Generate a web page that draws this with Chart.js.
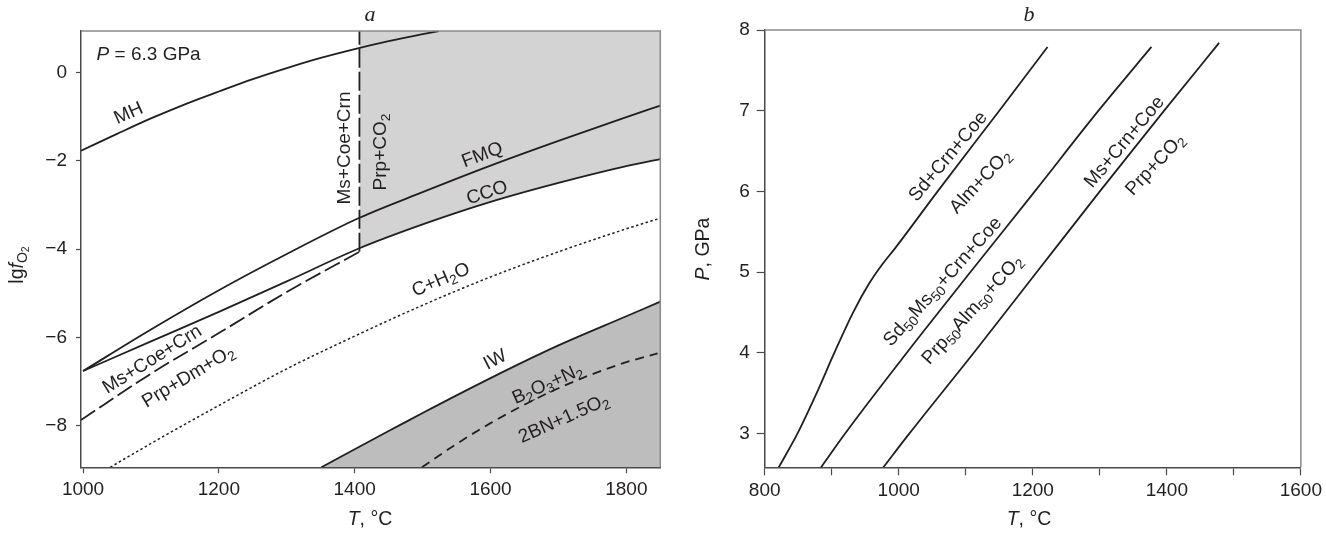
<!DOCTYPE html>
<html><head><meta charset="utf-8">
<script src="https://cdn.jsdelivr.net/npm/chart.js@4/dist/chart.umd.min.js"></script>
<style>
html,body{margin:0;padding:0;background:#fff;}
#wrap{position:relative;width:1326px;height:534px;overflow:hidden;}
#c1{position:absolute;left:0;top:0;width:690px;height:534px;}
#c2{position:absolute;left:690px;top:0;width:636px;height:534px;}
</style></head><body>
<div id="wrap"><canvas id="c1" width="690" height="534"></canvas><canvas id="c2" width="636" height="534"></canvas></div>
<script>
// ---------------- Panel a: lg fO2 vs T at 6.3 GPa ----------------
const tickT_a = [1000, 1200, 1400, 1600, 1800];
const tickLg_a = [-8, -6, -4, -2, 0];

const T_MH = [997, 1050, 1100, 1150, 1200, 1250, 1300, 1350, 1400, 1450, 1500, 1524];
const lg_MH = [-1.77, -1.39, -1.04, -0.72, -0.43, -0.15, 0.10, 0.33, 0.53, 0.71, 0.87, 0.94];

const T_FMQ = [1000, 1100, 1200, 1300, 1407, 1500, 1600, 1700, 1800, 1850];
const lg_FMQ = [-6.76, -5.82, -4.93, -4.11, -3.29, -2.71, -2.11, -1.55, -1.01, -0.75];

const T_CCO = [1000, 1100, 1200, 1300, 1407, 1500, 1600, 1700, 1800, 1850];
const lg_CCO = [-6.76, -6.09, -5.42, -4.73, -3.98, -3.44, -2.93, -2.50, -2.12, -1.96];

const T_PrpDm = [997, 1100, 1200, 1300, 1407];
const lg_PrpDm = [-7.87, -6.82, -5.90, -4.97, -4.06];

const T_MsPrp = [1407, 1407];
const lg_MsPrp = [-4.06, 0.94];

const T_CH2O = [1040, 1100, 1200, 1300, 1400, 1500, 1600, 1700, 1800, 1850];
const lg_CH2O = [-8.94, -8.40, -7.54, -6.71, -5.97, -5.27, -4.63, -4.06, -3.54, -3.30];

const T_IW = [1351, 1400, 1467, 1500, 1600, 1700, 1800, 1850];
const lg_IW = [-8.94, -8.53, -7.98, -7.71, -6.92, -6.18, -5.52, -5.19];

const T_BN = [1499, 1550, 1600, 1663, 1700, 1750, 1800, 1846];
const lg_BN = [-8.94, -8.41, -7.94, -7.42, -7.15, -6.83, -6.56, -6.36];

const boundaryT_a = 1407; // Ms+Coe+Crn = Prp+CO2 at 6.3 GPa

// ---------------- Panel b: P vs T ----------------
const tickT_b = [800, 900, 1000, 1100, 1200, 1300, 1400, 1500, 1600];
const tickP_b = [3, 4, 5, 6, 7, 8];

const T_Sd = [821, 849, 877, 904, 932, 956, 975, 995, 1058, 1150, 1222];
const P_Sd = [2.58, 3.0, 3.49, 4.0, 4.5, 4.86, 5.09, 5.30, 6.0, 7.0, 7.79];

const T_SdMs = [884, 920, 1012, 1107, 1203, 1298, 1377];
const P_SdMs = [2.58, 3.0, 4.0, 5.0, 6.0, 7.0, 7.79];

const T_Ms = [977, 1016, 1112, 1206, 1300, 1396, 1478];
const P_Ms = [2.58, 3.0, 4.0, 5.0, 6.0, 7.0, 7.84];

// ---------------- styles ----------------
const INK = '#231f20';
const AXIS = '#4a4a4a';
const FRAME = '#8a8a8a';
const FONT = '"Liberation Sans", Arial, Helvetica, sans-serif';
const SERIF = '"Liberation Serif", "Times New Roman", serif';
const FS = 19;

function pts(xs, ys) { return xs.map((x, i) => ({ x: x, y: ys[i] })); }

function parseRich(s) {
  const out = []; let it = false; let lvl = 0; const stack = []; let i = 0;
  const push = (ch, l) => {
    const last = out[out.length - 1];
    if (last && last.it === it && last.l === l) last.t += ch; else out.push({ t: ch, it: it, l: l });
  };
  while (i < s.length) {
    const c = s[i];
    if (c === '*') { it = !it; i++; continue; }
    if (c === '_') {
      if (s[i + 1] === '{') { stack.push(lvl); lvl++; i += 2; continue; }
      let j = i + 1;
      while (j < s.length && /[0-9]/.test(s[j])) { push(s[j], lvl + 1); j++; }
      i = j; continue;
    }
    if (c === '}' && stack.length) { lvl = stack.pop(); i++; continue; }
    push(c, lvl); i++;
  }
  return out;
}

function drawRich(ctx, str, x, y, angle, size, align) {
  const segs = parseRich(str);
  const info = segs.map(sg => {
    let sz = size, dy = 0;
    if (sg.l >= 1) { sz = size * 0.72; dy = size * 0.28; }
    if (sg.l >= 2) { sz = size * 0.72 * 0.75; dy = size * 0.28 + size * 0.72 * 0.22; }
    const font = (sg.it ? 'italic ' : '') + sz + 'px ' + FONT;
    ctx.font = font;
    return { t: sg.t, font: font, dy: dy, w: ctx.measureText(sg.t).width };
  });
  const total = info.reduce((a, b) => a + b.w, 0);
  ctx.save();
  ctx.translate(x, y);
  ctx.rotate(angle * Math.PI / 180);
  ctx.fillStyle = INK;
  ctx.textBaseline = 'middle';
  ctx.textAlign = 'left';
  let cx = align === 'left' ? 0 : -total / 2;
  info.forEach(s => { ctx.font = s.font; ctx.fillText(s.t, cx, s.dy); cx += s.w; });
  ctx.restore();
}

const labels_a = [
  { t: '*P* = 6.3 GPa', x: 1020, y: 0.40, a: 0, align: 'left' },
  { t: 'MH', x: 1067, y: -0.93, a: -24 },
  { t: 'Ms+Coe+Crn', x: 1386, y: -1.71, a: -90 },
  { t: 'Prp+CO_2', x: 1438, y: -1.80, a: -90 },
  { t: 'FMQ', x: 1588, y: -1.87, a: -21 },
  { t: 'CCO', x: 1595, y: -2.73, a: -18 },
  { t: 'C+H_2O', x: 1527, y: -4.70, a: -23 },
  { t: 'IW', x: 1607, y: -6.51, a: -27 },
  { t: 'B_2O_3+N_2', x: 1684, y: -7.06, a: -24 },
  { t: '2BN+1.5O_2', x: 1708, y: -7.84, a: -24 },
  { t: 'Ms+Coe+Crn', x: 1102, y: -6.50, a: -32 },
  { t: 'Prp+Dm+O_2', x: 1155, y: -6.89, a: -31 }
];
const labels_b = [
  { t: 'Sd+Crn+Coe', x: 1074, y: 6.43, a: -50 },
  { t: 'Alm+CO_2', x: 1122, y: 6.12, a: -47 },
  { t: 'Sd_50Ms_50+Crn+Coe', x: 1066, y: 4.88, a: -48 },
  { t: 'Prp_50Alm_50+CO_2', x: 1110, y: 4.53, a: -48 },
  { t: 'Ms+Crn+Coe', x: 1337, y: 6.61, a: -50 },
  { t: 'Prp+CO_2', x: 1383, y: 6.33, a: -47 }
];

function decoPlugin(cfg) {
  return {
    id: 'deco',
    afterDraw(chart) {
      const ctx = chart.ctx, ca = chart.chartArea;
      const xs = chart.scales.x, ys = chart.scales.y;
      ctx.save();
      ctx.strokeStyle = FRAME; ctx.lineWidth = 1.5;
      ctx.beginPath();
      ctx.moveTo(ca.left, ca.top); ctx.lineTo(ca.right, ca.top); ctx.lineTo(ca.right, ca.bottom);
      ctx.stroke();
      ctx.restore();
      cfg.labels.forEach(l => drawRich(ctx, l.t, xs.getPixelForValue(l.x), ys.getPixelForValue(l.y), l.a, FS, l.align));
      ctx.save();
      ctx.fillStyle = INK; ctx.font = 'italic 22px ' + SERIF; ctx.textAlign = 'center'; ctx.textBaseline = 'middle';
      ctx.fillText(cfg.title, cfg.titleX, 15);
      ctx.restore();
      drawRich(ctx, cfg.xTitle, cfg.xTitleX, 520, 0, FS + 0.5);
      drawRich(ctx, cfg.yTitle, cfg.yTitleX, cfg.yTitleY, -90, FS + 0.5);
    }
  };
}

function lineDs(data, extra) {
  return Object.assign({
    data: data, showLine: true, borderColor: INK, borderWidth: 1.8, pointRadius: 0,
    fill: false, cubicInterpolationMode: 'monotone', order: 0
  }, extra || {});
}

function axes(o) {
  return {
    x: {
      type: 'linear', min: o.xmin, max: o.xmax,
      afterBuildTicks: s => { s.ticks = o.xticks.map(v => ({ value: v })); },
      afterFit: s => { s.height = 534 - o.bottom; },
      ticks: { font: { family: FONT, size: FS }, color: INK, padding: o.xpad, maxRotation: 0, autoSkip: false,
        callback: o.xcb || (v => String(v)) },
      grid: { drawOnChartArea: false, drawTicks: true, tickLength: o.xtl, tickColor: AXIS, tickWidth: 1.2, color: AXIS },
      border: { display: true, color: AXIS, width: 1.5 }
    },
    y: {
      type: 'linear', min: o.ymin, max: o.ymax,
      afterBuildTicks: s => { s.ticks = o.yticks.map(v => ({ value: v })); },
      afterFit: s => { s.width = o.left; },
      ticks: { font: { family: FONT, size: FS }, color: INK, padding: o.ypad, autoSkip: false,
        callback: v => (v < 0 ? '\u2212' + Math.abs(v) : String(v)) },
      grid: { drawOnChartArea: false, drawTicks: true, tickLength: o.ytl, tickColor: AXIS, tickWidth: 1.2, color: AXIS },
      border: { display: true, color: AXIS, width: 1.5 }
    }
  };
}

Chart.defaults.font.family = FONT;

// ---- chart a ----
const ccoFill = pts(T_CCO, lg_CCO).filter(p => p.x >= boundaryT_a);
new Chart(document.getElementById('c1'), {
  type: 'scatter',
  data: {
    datasets: [
      lineDs(ccoFill, { borderWidth: 0, borderColor: 'rgba(0,0,0,0)', fill: 'end', backgroundColor: '#d3d3d3', order: 10 }),
      lineDs(pts(T_IW, lg_IW), { fill: 'start', backgroundColor: '#bdbdbd', order: 9 }),
      lineDs(pts(T_MH, lg_MH)),
      lineDs(pts(T_FMQ, lg_FMQ)),
      lineDs(pts(T_CCO, lg_CCO)),
      lineDs(pts(T_PrpDm, lg_PrpDm), { borderDash: [17, 5] }),
      lineDs(pts(T_MsPrp, lg_MsPrp), { borderDash: [19, 4], cubicInterpolationMode: 'default' }),
      lineDs(pts(T_CH2O, lg_CH2O), { borderDash: [2.5, 2.5], borderWidth: 1.5 }),
      lineDs(pts(T_BN, lg_BN), { borderDash: [9, 6] })
    ]
  },
  options: {
    responsive: false, animation: false, events: [], devicePixelRatio: 1,
    layout: { padding: { left: 0, top: 31, right: 690 - 660.3, bottom: 0 } },
    plugins: { legend: { display: false }, tooltip: { enabled: false } },
    scales: axes({ xmin: 997, xmax: 1850, ymin: -8.94, ymax: 0.94, xticks: tickT_a, yticks: tickLg_a,
      bottom: 467.3, left: 81, xpad: 5, ypad: 9, xtl: 6, ytl: 5 })
  },
  plugins: [decoPlugin({ labels: labels_a, title: 'a', titleX: 370, xTitle: '*T*, \u00b0C', xTitleX: 370,
    yTitle: 'lg*f*_{O_2}', yTitleX: 18, yTitleY: 265 })]
});

// ---- chart b ----
new Chart(document.getElementById('c2'), {
  type: 'scatter',
  data: {
    datasets: [
      lineDs(pts(T_Sd, P_Sd)),
      lineDs(pts(T_SdMs, P_SdMs)),
      lineDs(pts(T_Ms, P_Ms))
    ]
  },
  options: {
    responsive: false, animation: false, events: [], devicePixelRatio: 1,
    layout: { padding: { left: 0, top: 30, right: 636 - 611, bottom: 0 } },
    plugins: { legend: { display: false }, tooltip: { enabled: false } },
    scales: axes({ xmin: 800, xmax: 1600, ymin: 2.58, ymax: 8, xticks: tickT_b, yticks: tickP_b,
      bottom: 467.3, left: 74.7, xpad: 4, ypad: 7, xtl: 8, ytl: 8,
      xcb: v => (v % 200 === 0 ? String(v) : '') })
  },
  plugins: [decoPlugin({ labels: labels_b, title: 'b', titleX: 1029 - 690, xTitle: '*T*, \u00b0C', xTitleX: 1029 - 690,
    yTitle: '*P*, GPa', yTitleX: 14, yTitleY: 249 })]
});
</script>
</body></html>
